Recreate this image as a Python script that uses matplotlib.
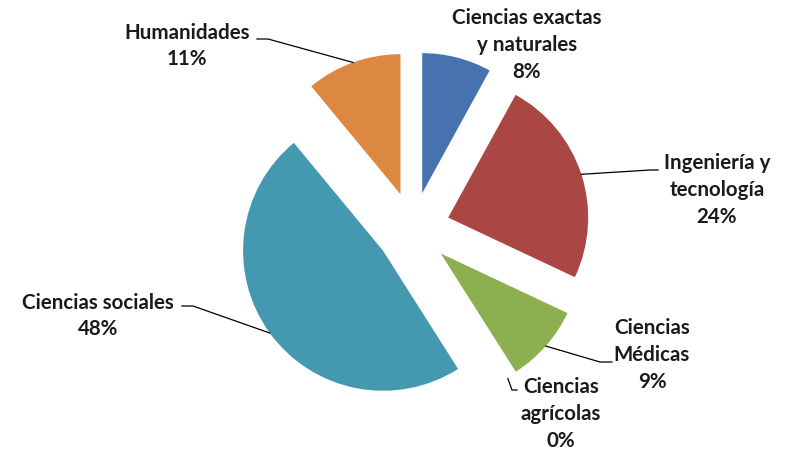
import numpy as np
import matplotlib.pyplot as plt

# Distribución por área del conocimiento (%)
areas = ['Ciencias exactas\ny naturales', 'Ingeniería y\ntecnología', 'Ciencias\nMédicas',
         'Ciencias\nagrícolas', 'Ciencias sociales', 'Humanidades']
porcentajes = [8, 24, 9, 0, 48, 11]
colores = ['#4672B0', '#AA4644', '#8CB050', '#7F63A0', '#4499B1', '#DD8840']

W, H = 788, 454
R = 140          # radio en píxeles
EXPLODE = 37     # separación de cada sector
CENTRO = (413, H - 229)

# posición del texto (centro del bloque) y codo de la línea guía, en píxeles (y hacia abajo)
pos_texto = [(527, 45), (717, 190), (652, 355), (561, 414), (98, 316), (187, 46)]
codo = [None, (650, 170), (600, 362), (512, 390), (193, 306), (268, 39)]
fin = [None, (658, 170), (612, 362), (517, 390), (182, 306), (257, 39)]

fig = plt.figure(figsize=(W / 100, H / 100), dpi=100)
ax = fig.add_axes([0, 0, 1, 1])

wedges, _ = ax.pie(porcentajes, explode=[EXPLODE] * len(porcentajes), colors=colores,
                   startangle=90, counterclock=False, radius=R, center=CENTRO,
                   wedgeprops=dict(linewidth=0))
ax.set_xlim(0, W)
ax.set_ylim(0, H)
ax.set_aspect('equal')
ax.axis('off')

for w, txt, p, (tx, ty), c, f in zip(wedges, areas, porcentajes, pos_texto, codo, fin):
    ax.text(tx, H - ty, f'{txt}\n{p}%', ha='center', va='center', fontsize=14.8,
            fontweight='bold', family='Lato', color='#1a1a1a', linespacing=1.42)
    if c is None:
        continue
    # punto de anclaje: mitad del arco del sector
    th = np.deg2rad((w.theta1 + w.theta2) / 2)
    cx, cy = w.center
    ax_, ay_ = cx + w.r * np.cos(th), cy + w.r * np.sin(th)
    ax.plot([ax_, c[0], f[0]], [ay_, H - c[1], H - f[1]], color='black', lw=0.9)

fig.savefig('out.png', dpi=100)
